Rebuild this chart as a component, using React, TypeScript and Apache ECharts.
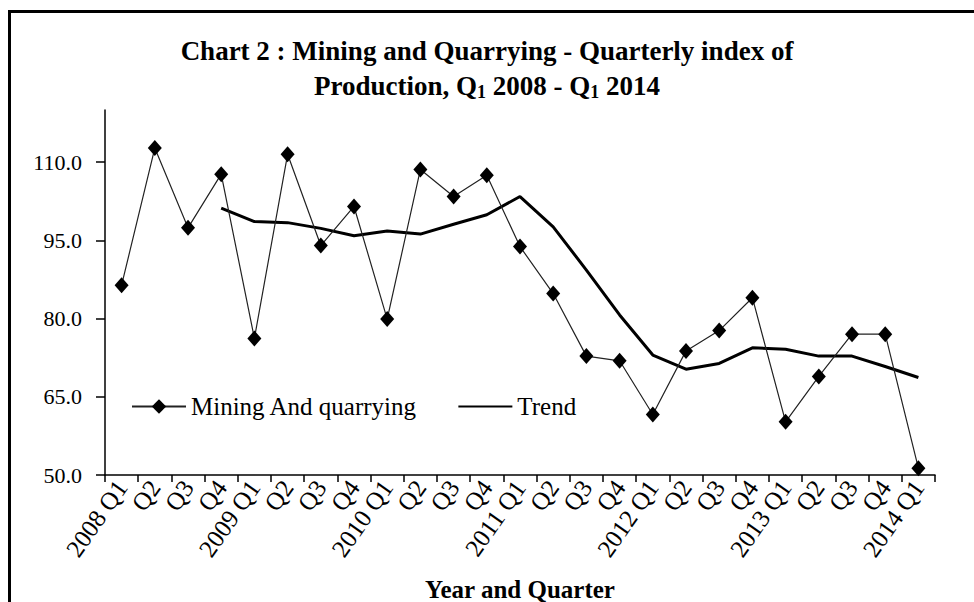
import React, { useEffect, useRef } from "react";
import * as echarts from "echarts";

const categories = [
  "2008 Q1", "Q2", "Q3", "Q4",
  "2009 Q1", "Q2", "Q3", "Q4",
  "2010 Q1", "Q2", "Q3", "Q4",
  "2011 Q1", "Q2", "Q3", "Q4",
  "2012 Q1", "Q2", "Q3", "Q4",
  "2013 Q1", "Q2", "Q3", "Q4",
  "2014 Q1",
];

const miningValues = [
  86.4, 112.7, 97.4, 107.7,
  76.2, 111.5, 94.0, 101.5,
  79.9, 108.6, 103.4, 107.5,
  93.8, 84.8, 72.8, 71.9,
  61.6, 73.8, 77.7, 84.0,
  60.2, 68.9, 77.0, 77.0,
  51.3,
];

const trendValues: (number | null)[] = [
  null, null, null, 101.2,
  98.6, 98.4, 97.3, 95.9,
  96.8, 96.2, 98.1, 99.9,
  103.4, 97.6, 89.3, 80.7,
  73.0, 70.3, 71.4, 74.4,
  74.1, 72.8, 72.8, 70.8,
  68.7,
];

const yTicks = [50, 65, 80, 95, 110];

const SERIF = "Liberation Serif";

export default function App() {
  const ref = useRef<HTMLDivElement>(null);
  useEffect(() => {
    if (!ref.current) return;
    const chart = echarts.init(ref.current, undefined, { renderer: "svg" });
    chart.setOption({
      animation: false,
      backgroundColor: "#ffffff",
      title: {
        text: "Chart 2 : Mining and Quarrying - Quarterly index of\nProduction, Q{s|1} 2008 - Q{s|1} 2014",
        left: "center",
        top: 28,
        textStyle: {
          fontFamily: SERIF,
          fontSize: 27,
          fontWeight: "bold",
          color: "#000",
          lineHeight: 35,
          rich: {
            s: {
              fontFamily: SERIF,
              fontSize: 18,
              fontWeight: "bold",
              color: "#000",
              lineHeight: 35,
              padding: [12, 0, 0, 0],
            },
          },
        },
      },
      graphic: [
        {
          type: "rect",
          shape: { x: 9.5, y: 11.5, width: 1000, height: 700 },
          style: { fill: "none", stroke: "#000", lineWidth: 3 },
          silent: true,
          z: 100,
        },
      ],
      legend: {
        left: 126,
        top: 389,
        itemGap: 40,
        itemWidth: 54,
        itemHeight: 18,
        textStyle: { fontFamily: SERIF, fontSize: 25, color: "#000" },
        data: [
          { name: "Mining And quarrying" },
          { name: "Trend", itemStyle: { opacity: 0 } },
        ],
      },
      grid: {
        left: 105,
        top: 110,
        right: 39,
        bottom: 127,
        containLabel: false,
        outerBoundsMode: "none",
      },
      xAxis: {
        type: "category",
        data: categories,
        boundaryGap: true,
        name: "Year and Quarter",
        nameLocation: "middle",
        nameGap: 102,
        nameTextStyle: { fontFamily: SERIF, fontSize: 25, fontWeight: "bold", color: "#000" },
        axisLine: { lineStyle: { color: "#000", width: 1.5 } },
        axisTick: { show: true, alignWithLabel: false, length: 7, lineStyle: { color: "#000", width: 1.5 } },
        axisLabel: {
          interval: 0,
          rotate: 55,
          margin: 8,
          fontFamily: SERIF,
          fontSize: 25,
          color: "#000",
        },
        splitLine: { show: false },
      },
      yAxis: {
        type: "value",
        min: 50,
        max: 120,
        interval: 10,
        axisLine: { show: true, lineStyle: { color: "#000", width: 1.5 } },
        axisTick: {
          show: true,
          length: 9,
          customValues: yTicks,
          lineStyle: { color: "#000", width: 1.5 },
        },
        axisLabel: {
          customValues: yTicks,
          formatter: (v: number) => v.toFixed(1),
          fontFamily: SERIF,
          fontSize: 22,
          color: "#000",
          margin: 23,
        },
        splitLine: { show: false },
      },
      series: [
        {
          name: "Mining And quarrying",
          type: "line",
          data: miningValues,
          symbol: "diamond",
          symbolSize: [14, 16],
          itemStyle: { color: "#000" },
          lineStyle: { color: "#222", width: 1.2 },
          z: 3,
        },
        {
          name: "Trend",
          type: "line",
          data: trendValues,
          symbol: "none",
          connectNulls: false,
          itemStyle: { color: "#000" },
          lineStyle: { color: "#000", width: 3 },
          z: 2,
        },
      ],
    });
    return () => chart.dispose();
  }, []);
  return (
    <div
      ref={ref}
      style={{ position: "fixed", left: 0, top: 0, width: 974, height: 602, background: "#fff" }}
    />
  );
}
